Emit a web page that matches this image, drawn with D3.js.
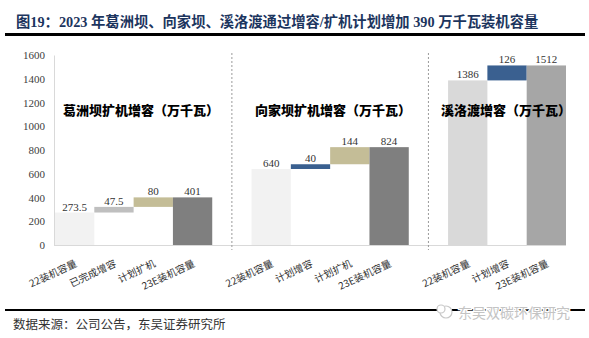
<!DOCTYPE html>
<html><head><meta charset="utf-8">
<script src="https://cdn.jsdelivr.net/npm/d3@7/dist/d3.min.js"></script>
<style>
body{margin:0;background:#fff;}
svg{display:block;}
</style></head>
<body><div id="chart"></div>
<script>
// ---- data ----
const titleText = "图19：2023 年葛洲坝、向家坝、溪洛渡通过增容/扩机计划增加 390 万千瓦装机容量";
const sourceText = "数据来源：公司公告，东吴证券研究所";
const watermarkText = "东吴双碳环保研究";
const yTicks = [0, 200, 400, 600, 800, 1000, 1200, 1400, 1600];

const groupTitles = ["葛洲坝扩机增容（万千瓦）", "向家坝扩机增容（万千瓦）", "溪洛渡增容（万千瓦）"];

const gezhoubaCats = ["22装机容量", "已完成增容", "计划扩机", "23E装机容量"];
const gezhoubaValues = [273.5, 47.5, 80, 401];
const gezhoubaKinds = ["base", "delta", "delta", "total"];
const gezhoubaColors = ["#f2f2f2", "#bfbfbf", "#c4bd97", "#7f7f7f"];

const xiangjiabaCats = ["22装机容量", "计划增容", "计划扩机", "23E装机容量"];
const xiangjiabaValues = [640, 40, 144, 824];
const xiangjiabaKinds = ["base", "delta", "delta", "total"];
const xiangjiabaColors = ["#f2f2f2", "#3a6090", "#c4bd97", "#7f7f7f"];

const xiluoduCats = ["22装机容量", "计划增容", "23E装机容量"];
const xiluoduValues = [1386, 126, 1512];
const xiluoduKinds = ["base", "delta", "total"];
const xiluoduColors = ["#d9d9d9", "#3a6090", "#a6a6a6"];

const groups = [
  {cats: gezhoubaCats, values: gezhoubaValues, kinds: gezhoubaKinds, colors: gezhoubaColors},
  {cats: xiangjiabaCats, values: xiangjiabaValues, kinds: xiangjiabaKinds, colors: xiangjiabaColors},
  {cats: xiluoduCats, values: xiluoduValues, kinds: xiluoduKinds, colors: xiluoduColors}
];

// build slot list (with an empty gap slot between groups)
const slots = [];
const bars = [];
const gapKeys = [];
groups.forEach((g, gi) => {
  let run = 0;
  g.cats.forEach((c, i) => {
    const key = gi + "_" + i;
    slots.push(key);
    const v = g.values[i];
    let y0, y1;
    if (g.kinds[i] === "delta") { y0 = run; y1 = run + v; run = y1; }
    else { y0 = 0; y1 = v; run = v; }
    bars.push({key, label: c, value: v, y0, y1, color: g.colors[i]});
  });
  if (gi < groups.length - 1) { const k = "gap" + gi; slots.push(k); gapKeys.push(k); }
});

// ---- layout ----
const W = 589, H = 338;
const svg = d3.select("#chart").append("svg").attr("width", W).attr("height", H);
const serif = "'Liberation Serif','Times New Roman',serif";
const cjk = "'Noto Sans CJK SC','Noto Sans',sans-serif";

const x = d3.scaleBand().domain(slots).range([55, 566]).padding(0);
const y = d3.scaleLinear().domain([0, 1600]).range([245, 55]);

// title
svg.append("text").attr("x", 16).attr("y", 27)
  .attr("font-family", serif + ",'Noto Sans CJK SC'").attr("font-weight", "bold")
  .attr("font-size", 14.3).attr("fill", "#1c355e").text(titleText);
svg.append("line").attr("x1", 5).attr("x2", 585).attr("y1", 34.5).attr("y2", 34.5)
  .attr("stroke", "#000").attr("stroke-width", 3);

// y axis
const yAxis = svg.append("g").attr("transform", "translate(54,0)")
  .call(d3.axisLeft(y).tickValues(yTicks).tickFormat(d3.format("d")).tickSize(0).tickPadding(9));
yAxis.select(".domain").attr("stroke", "#d9d9d9");
yAxis.selectAll("text").attr("font-family", serif).attr("font-size", 11).attr("fill", "#404040");

// x baseline
const xAxis = svg.append("g").attr("transform", "translate(0,245)")
  .call(d3.axisBottom(x).tickSize(0).tickFormat(""));
xAxis.select(".domain").attr("stroke", "#d9d9d9").attr("d", "M54,0.5H566");

// separators
svg.selectAll("line.sep").data(gapKeys).join("line").attr("class", "sep")
  .attr("x1", d => x(d) + x.bandwidth() / 2).attr("x2", d => x(d) + x.bandwidth() / 2)
  .attr("y1", 53).attr("y2", 250)
  .attr("stroke", "#9a9a9a").attr("stroke-width", 1).attr("stroke-dasharray", "2,2");

// bars
svg.selectAll("rect.bar").data(bars).join("rect").attr("class", "bar")
  .attr("x", d => x(d.key)).attr("width", x.bandwidth())
  .attr("y", d => y(d.y1)).attr("height", d => y(d.y0) - y(d.y1))
  .attr("fill", d => d.color);

// value labels
svg.selectAll("text.val").data(bars).join("text").attr("class", "val")
  .attr("x", d => x(d.key) + x.bandwidth() / 2).attr("y", d => y(d.y1) - 2)
  .attr("text-anchor", "middle").attr("font-family", serif).attr("font-size", 11)
  .attr("fill", "#333").text(d => d.value);

// category labels
svg.selectAll("text.cat").data(bars).join("text").attr("class", "cat")
  .attr("transform", d => `translate(${x(d.key) + x.bandwidth() / 2 + 3},266) rotate(-25)`)
  .attr("text-anchor", "end").attr("font-family", cjk).attr("font-size", 10)
  .attr("fill", "#333").text(d => d.label);

// group titles
const titlePos = [[63, 115], [255, 115], [441, 115]];
svg.selectAll("text.gt").data(groupTitles).join("text").attr("class", "gt")
  .attr("x", (d, i) => titlePos[i][0]).attr("y", (d, i) => titlePos[i][1])
  .attr("font-family", cjk).attr("font-weight", "900").attr("font-size", 13)
  .attr("fill", "#000").text(d => d);

// footer
svg.append("line").attr("x1", 5).attr("x2", 585).attr("y1", 310).attr("y2", 310)
  .attr("stroke", "#000").attr("stroke-width", 2);
svg.append("text").attr("x", 13).attr("y", 328.5)
  .attr("font-family", cjk).attr("font-size", 12.5).attr("fill", "#333").text(sourceText);

// watermark
const wm = svg.append("g");
wm.append("circle").attr("cx", 446).attr("cy", 312).attr("r", 6)
  .attr("fill", "#fff").attr("stroke", "#c8c8c8").attr("stroke-width", 1.2);
wm.append("circle").attr("cx", 441).attr("cy", 309).attr("r", 4)
  .attr("fill", "#fff").attr("stroke", "#c8c8c8").attr("stroke-width", 1.2);
wm.append("text").attr("x", 458).attr("y", 317.5)
  .attr("font-family", cjk).attr("font-size", 14).attr("fill", "#c4c4c4")
  .attr("stroke", "#fff").attr("stroke-width", 2.5).attr("paint-order", "stroke")
  .text(watermarkText);
</script></body></html>
